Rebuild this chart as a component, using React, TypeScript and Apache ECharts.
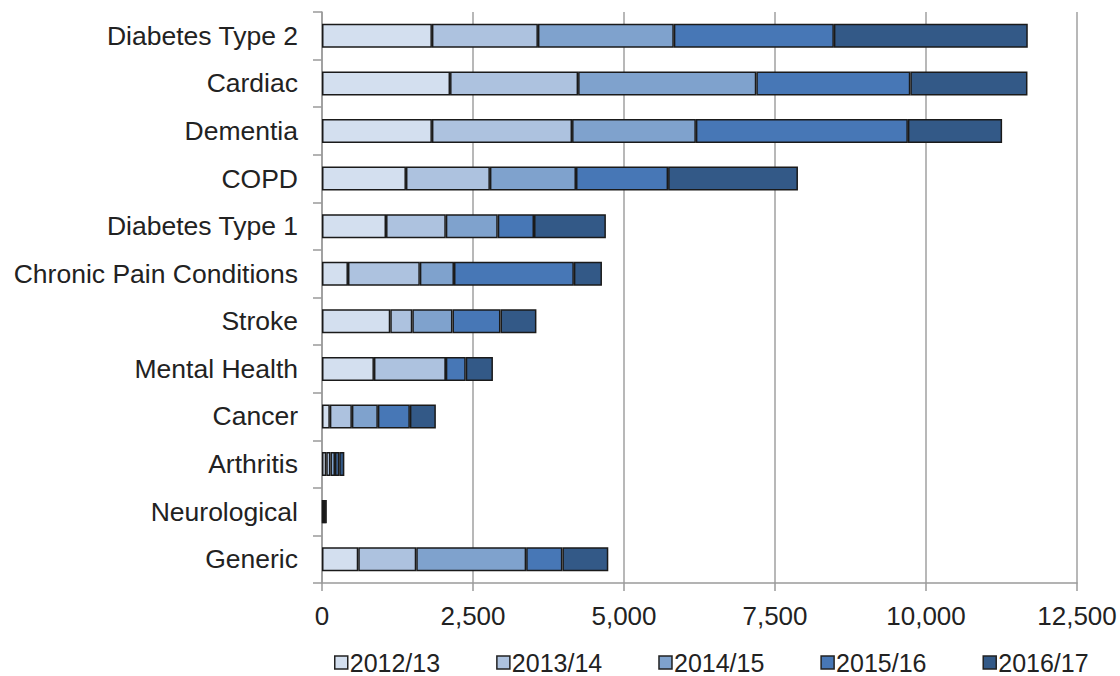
import React, { useEffect, useRef } from "react";
import * as echarts from "echarts";

const categories = [
  "Diabetes Type 2",
  "Cardiac",
  "Dementia",
  "COPD",
  "Diabetes Type 1",
  "Chronic Pain Conditions",
  "Stroke",
  "Mental Health",
  "Cancer",
  "Arthritis",
  "Neurological",
  "Generic",
];

const seriesNames = ["2012/13", "2013/14", "2014/15", "2015/16", "2016/17"];

const v2012 = [1820, 2120, 1820, 1390, 1060, 430, 1130, 860, 130, 70, 15, 600];
const v2013 = [1755, 2120, 2320, 1390, 990, 1190, 365, 1190, 365, 70, 15, 960];
const v2014 = [2250, 2950, 2050, 1425, 860, 565, 665, 0, 430, 75, 15, 1820];
const v2015 = [2650, 2550, 3510, 1525, 600, 1985, 795, 330, 530, 70, 15, 600];
const v2016 = [3210, 1940, 1560, 2150, 1190, 465, 595, 450, 430, 85, 15, 760];

const seriesValues = [v2012, v2013, v2014, v2015, v2016];
const colors = ["#d3dfef", "#adc2df", "#7fa2cd", "#4777b6", "#335987"];
const xTicks = [0, 2500, 5000, 7500, 10000, 12500];

export default function App() {
  const ref = useRef<HTMLDivElement>(null);
  useEffect(() => {
    if (!ref.current) return;
    const chart = echarts.init(ref.current, undefined, { renderer: "svg" });
    const font = "Liberation Sans, Arial, sans-serif";
    chart.setOption({
      animation: false,
      grid: { left: 322, right: 43, top: 12, bottom: 93, containLabel: false },
      legend: {
        top: 650,
        left: 334,
        padding: 0,
        itemWidth: 13,
        itemHeight: 13,
        itemGap: 56,
        icon: "rect",
        textStyle: {
          fontFamily: font,
          fontSize: 25,
          lineHeight: 25,
          color: "#222",
          padding: [0, 0, 0, -3],
        },
        data: seriesNames.map((n, i) => ({
          name: n,
          itemStyle: { color: colors[i], borderColor: "#222", borderWidth: 1.5 },
        })),
      },
      xAxis: {
        type: "value",
        min: 0,
        max: 12500,
        interval: 2500,
        axisLine: { show: true, lineStyle: { color: "#9a9a9a", width: 1.5 } },
        axisTick: { show: true, length: 8, lineStyle: { color: "#9a9a9a", width: 1.5 } },
        splitLine: { show: true, lineStyle: { color: "#a0a0a0", width: 1.5 } },
        axisLabel: {
          fontFamily: font,
          fontSize: 26,
          color: "#222",
          margin: 20,
          formatter: (v: number) => (xTicks.includes(v) ? v.toLocaleString("en-US") : ""),
        },
      },
      yAxis: {
        type: "category",
        inverse: true,
        data: categories,
        axisLine: { show: true, lineStyle: { color: "#9a9a9a", width: 1.5 } },
        axisTick: { show: true, length: 9, lineStyle: { color: "#9a9a9a", width: 1.5 } },
        axisLabel: { fontFamily: font, fontSize: 26.5, color: "#222", margin: 24 },
      },
      series: seriesNames.map((n, i) => ({
        name: n,
        type: "bar",
        stack: "total",
        barWidth: 24,
        data: seriesValues[i],
        itemStyle: { color: colors[i], borderColor: "#1a1a1a", borderWidth: 1.5 },
      })),
    });
    return () => chart.dispose();
  }, []);
  return (
    <div
      ref={ref}
      style={{ position: "absolute", left: 0, top: 0, width: 1120, height: 676 }}
    />
  );
}
